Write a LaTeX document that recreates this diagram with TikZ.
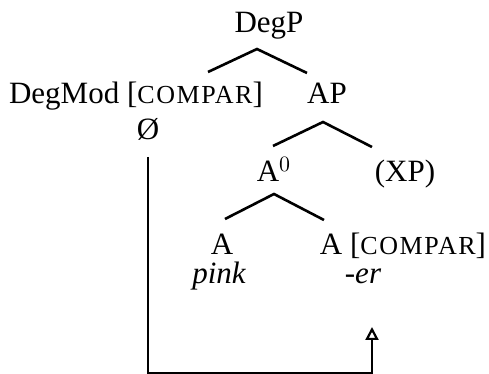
\documentclass[tikz,border=0pt]{standalone}
\usepackage{fontspec}
\setmainfont{Liberation Serif}
\usetikzlibrary{arrows.meta}
\newcommand\smcap[1]{{\fontsize{13}{14}\selectfont\addfontfeature{LetterSpace=6}#1}}
\begin{document}
\begin{tikzpicture}[x=0.5pt,y=-0.5pt,
  lbl/.style={anchor=base,inner sep=0pt,outer sep=0pt,font=\fontsize{15.5}{18}\selectfont},
  branch/.style={line width=1.3pt},
  move/.style={line width=1.1pt}]
\useasboundingbox (0,0) rectangle (489,374);
% nodes
\node[lbl] (degp) at (269,33) {DegP};
\node[lbl] (degmod) at (136,104) {DegMod [\smcap{COMPAR}]};
\node[lbl] (ap) at (327,104) {AP};
\node[lbl] (null) at (148,140) {Ø};
\node[lbl] (a0) at (274,182) {A$^{0}$};
\node[lbl] (xp) at (405,182) {(XP)};
\node[lbl] (aleft) at (222,255) {A};
\node[lbl] (aright) at (403,255) {A [\smcap{COMPAR}]};
\node[lbl] (pink) at (219,284) {\itshape pink};
\node[lbl] (er) at (363,284) {\itshape -er};
% branch coordinates
\coordinate (degpT) at (257,49);
\coordinate (degpL) at (208,72);
\coordinate (degpR) at (307,73);
\coordinate (apT) at (323,122);
\coordinate (apL) at (273,146);
\coordinate (apR) at (372,147);
\coordinate (a0T) at (274,194);
\coordinate (a0L) at (225,219);
\coordinate (a0R) at (324,220);
\draw[branch] (degpL) -- (degpT) -- (degpR);
\draw[branch] (apL) -- (apT) -- (apR);
\draw[branch] (a0L) -- (a0T) -- (a0R);
% movement arrow
\coordinate (mvS) at (148,157);
\coordinate (mvC1) at (148,373);
\coordinate (mvC2) at (372,373);
\coordinate (mvE) at (372,327);
\draw[move,-{Triangle[open,length=6.5pt,width=6.5pt]}] (mvS) -- (mvC1) -- (mvC2) -- (mvE);
\end{tikzpicture}
\end{document}
